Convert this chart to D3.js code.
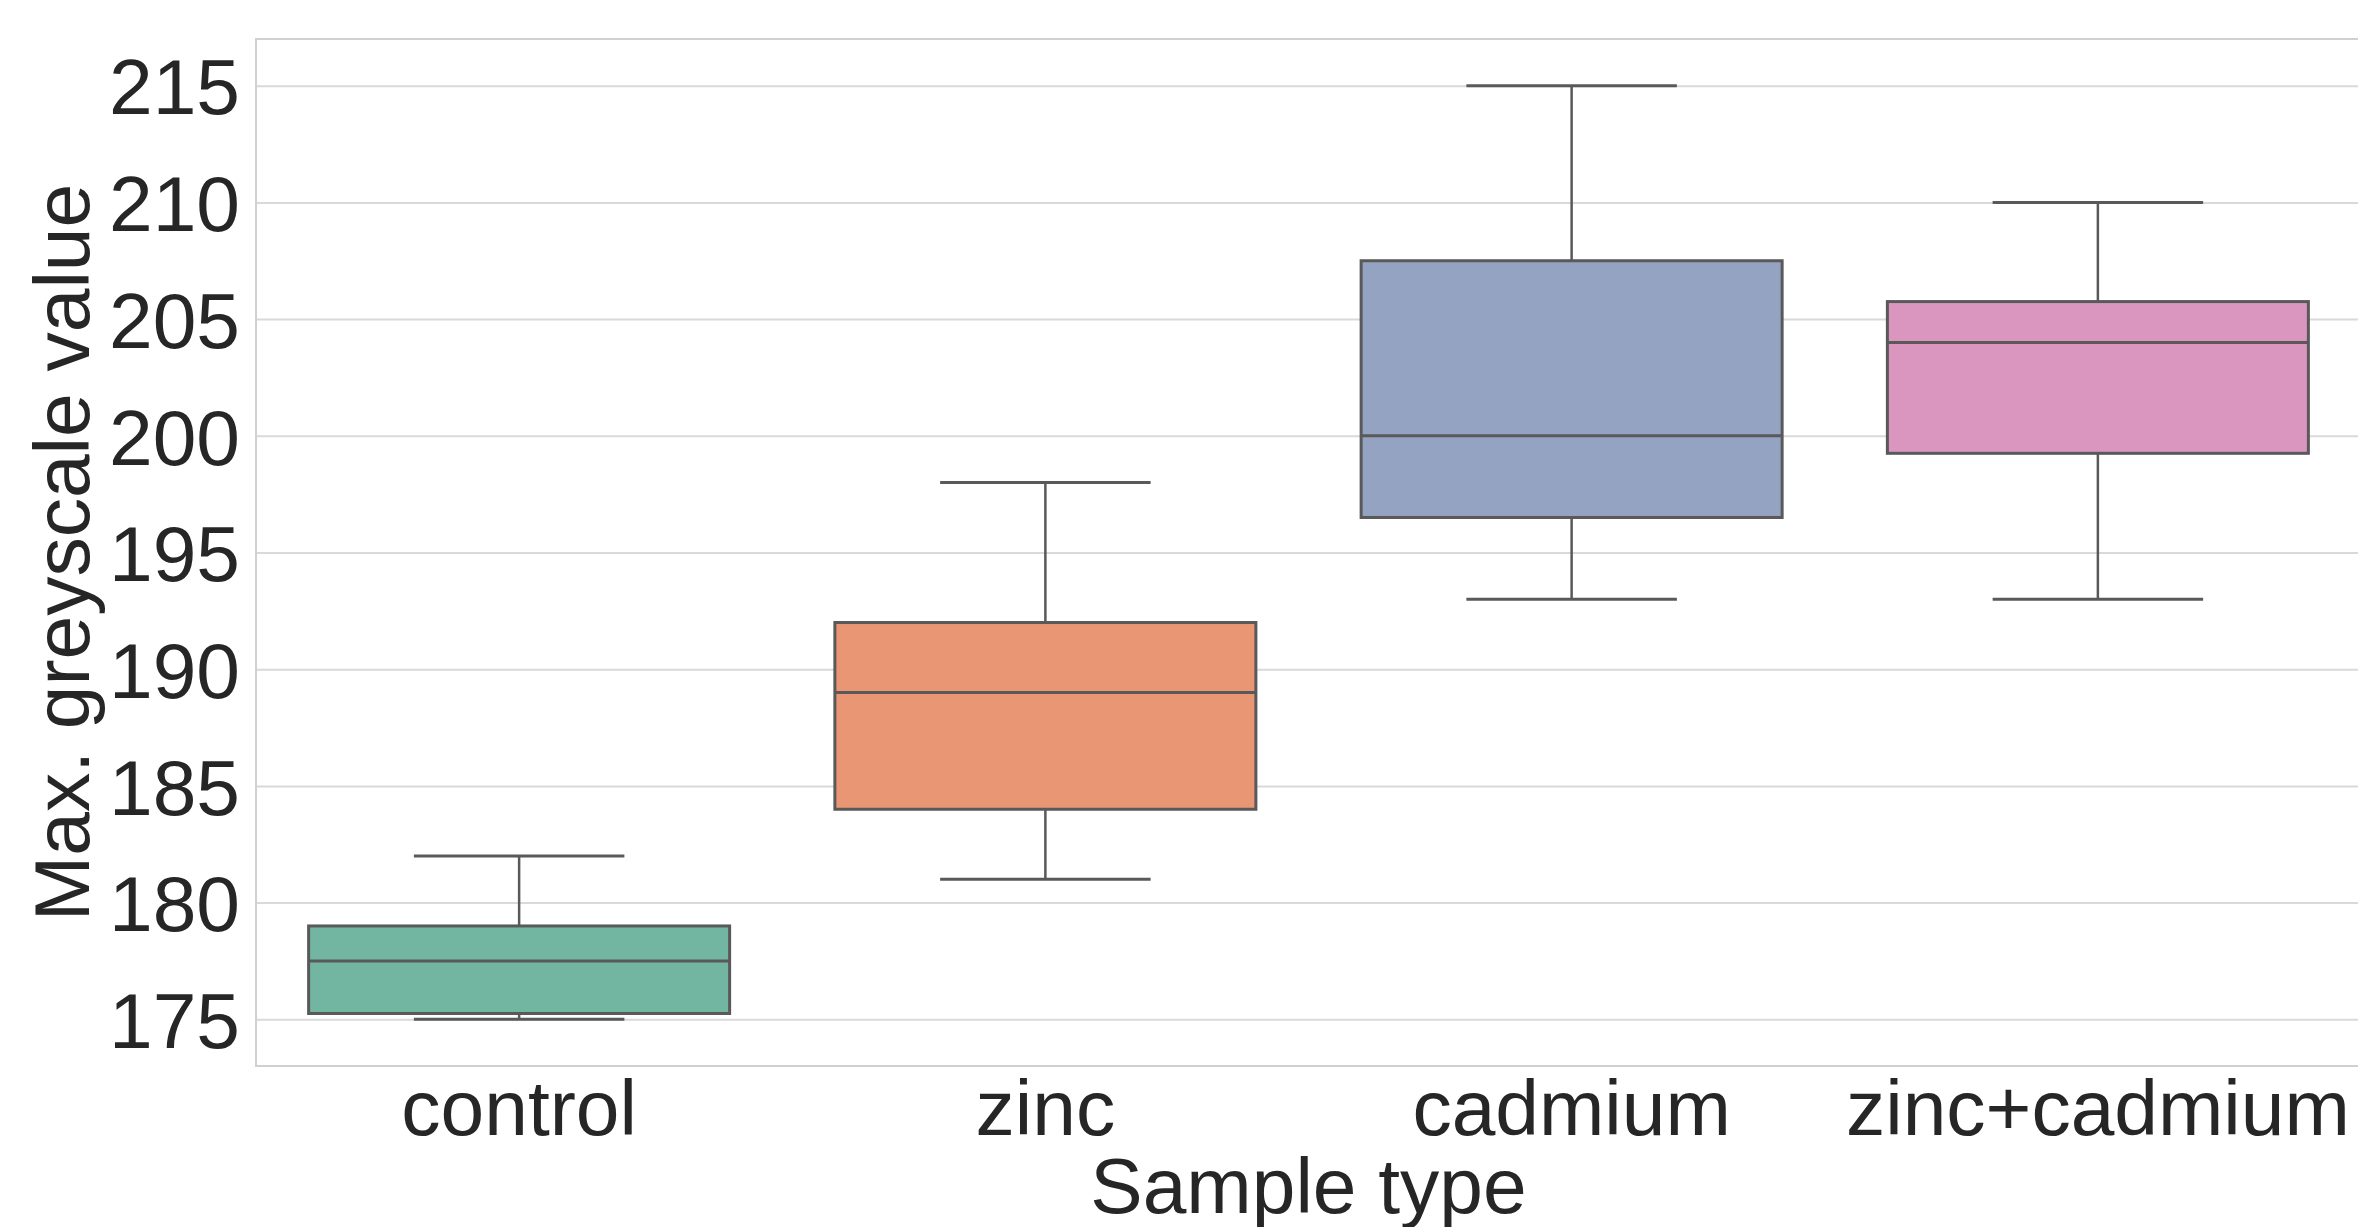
<!DOCTYPE html>
<html>
<head>
<meta charset="utf-8">
<script src="https://cdn.jsdelivr.net/npm/d3@7"></script>
<style>
  body { margin: 0; background: #fff; overflow: hidden; }
  svg { display: block; font-family: "Liberation Sans", Arial, sans-serif; }
</style>
</head>
<body>
<svg id="chart"></svg>
<script>
/* values */
var categories = ["control", "zinc", "cadmium", "zinc+cadmium"];
var whisker_low = [175, 181, 193, 193];
var q1 = [175.25, 184, 196.5, 199.25];
var median = [177.5, 189, 200, 204];
var q3 = [179, 192, 207.5, 205.75];
var whisker_high = [182, 198, 215, 210];
var y_ticks = [175, 180, 185, 190, 195, 200, 205, 210, 215];
var box_colors = ["#72b6a1", "#e99675", "#95a3c3", "#db96c0"];

var svg_width = 2358, svg_height = 1227;

var svg = d3.select("#chart")
    .attr("width", svg_width)
    .attr("height", svg_height);

/* plot area; the right spine sits just outside the picture, as in the reference */
var margin = {top: 39, left: 256},
    width = 2105,
    height = 1027;

var x = d3.scaleBand().domain(categories).range([0, width]).paddingInner(0.2).paddingOuter(0.1),
    y = d3.scaleLinear().domain([173, 217]).range([height, 0]);

var g = svg.append("g")
    .attr("transform", "translate(" + margin.left + "," + margin.top + ")");

/* y grid + tick labels */
var y_axis = g.append("g")
    .attr("class", "axis axis--y")
    .call(d3.axisLeft(y).tickValues(y_ticks).tickSize(-width).tickPadding(16).tickFormat(d3.format("d")));
y_axis.select(".domain").remove();
y_axis.selectAll("line").attr("stroke", "#d9d9d9").attr("stroke-width", 2);
y_axis.selectAll("text")
    .attr("fill", "#262626")
    .attr("dy", "0.36em")
    .style("font-size", "78.5px");

/* x tick labels */
var x_axis = g.append("g")
    .attr("class", "axis axis--x")
    .attr("transform", "translate(0," + height + ")")
    .call(d3.axisBottom(x).tickSize(0).tickPadding(13));
x_axis.select(".domain").remove();
x_axis.selectAll("text")
    .attr("fill", "#262626")
    .style("font-size", "78.5px");

/* frame */
g.append("rect")
    .attr("x", 0).attr("y", 0)
    .attr("width", width).attr("height", height)
    .attr("fill", "none")
    .attr("stroke", "#d0d0d0")
    .attr("stroke-width", 2);

var line_color = "#595959";
var box_w = x.bandwidth();

var boxes = g.selectAll(".box")
    .data(categories)
  .enter().append("g")
    .attr("class", "box")
    .attr("transform", function(d) { return "translate(" + (x(d) + box_w / 2) + ",0)"; });

/* whiskers */
boxes.append("line")
    .attr("x1", 0).attr("x2", 0)
    .attr("y1", function(d, i) { return y(whisker_low[i]); })
    .attr("y2", function(d, i) { return y(q1[i]); })
    .attr("stroke", line_color).attr("stroke-width", 2.5);
boxes.append("line")
    .attr("x1", 0).attr("x2", 0)
    .attr("y1", function(d, i) { return y(q3[i]); })
    .attr("y2", function(d, i) { return y(whisker_high[i]); })
    .attr("stroke", line_color).attr("stroke-width", 2.5);

/* caps */
boxes.append("line")
    .attr("x1", -box_w / 4).attr("x2", box_w / 4)
    .attr("y1", function(d, i) { return y(whisker_low[i]); })
    .attr("y2", function(d, i) { return y(whisker_low[i]); })
    .attr("stroke", line_color).attr("stroke-width", 3);
boxes.append("line")
    .attr("x1", -box_w / 4).attr("x2", box_w / 4)
    .attr("y1", function(d, i) { return y(whisker_high[i]); })
    .attr("y2", function(d, i) { return y(whisker_high[i]); })
    .attr("stroke", line_color).attr("stroke-width", 3);

/* boxes */
boxes.append("rect")
    .attr("x", -box_w / 2)
    .attr("width", box_w)
    .attr("y", function(d, i) { return y(q3[i]); })
    .attr("height", function(d, i) { return y(q1[i]) - y(q3[i]); })
    .attr("fill", function(d, i) { return box_colors[i]; })
    .attr("stroke", line_color).attr("stroke-width", 3);

/* medians */
boxes.append("line")
    .attr("x1", -box_w / 2).attr("x2", box_w / 2)
    .attr("y1", function(d, i) { return y(median[i]); })
    .attr("y2", function(d, i) { return y(median[i]); })
    .attr("stroke", line_color).attr("stroke-width", 3);

/* axis titles */
svg.append("text")
    .attr("transform", "translate(89," + (margin.top + height / 2) + ") rotate(-90)")
    .attr("text-anchor", "middle")
    .attr("fill", "#262626")
    .style("font-size", "78.5px")
    .text("Max. greyscale value");

svg.append("text")
    .attr("x", margin.left + width / 2)
    .attr("y", 1213)
    .attr("text-anchor", "middle")
    .attr("fill", "#262626")
    .style("font-size", "78.5px")
    .text("Sample type");
</script>
</body>
</html>
